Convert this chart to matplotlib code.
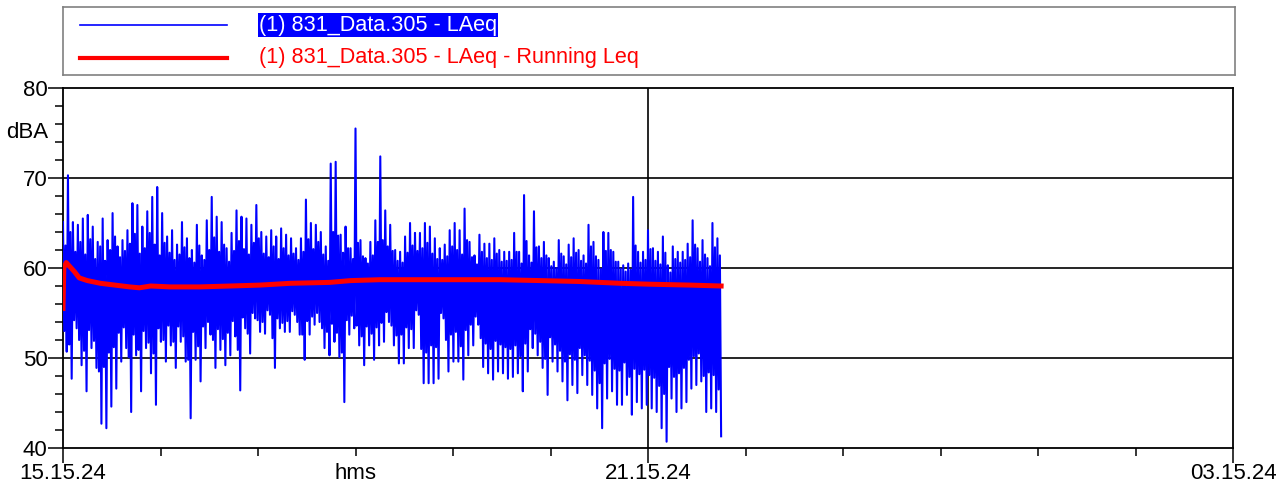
import numpy as np
import matplotlib
matplotlib.use('Agg')
import matplotlib.pyplot as plt

plt.rcParams['font.family'] = ['Liberation Sans', 'DejaVu Sans']

# x in minutes after 15.15.24
x_major = [0, 360, 720]
x_major_labels = ['15.15.24', '21.15.24', '03.15.24']
x_minor = [60, 120, 180, 240, 300, 420, 480, 540, 600, 660]
x_minor_labels = ['', '', 'hms', '', '', '', '', '', '', '']
y_major = [40, 50, 60, 70, 80]
y_minor = [42, 44, 46, 48, 52, 54, 56, 58, 62, 64, 66, 68, 72, 74, 76, 78]
end_min = 405  # last sample, minutes after start

# LAeq per ~3 min block: highest and lowest swing
laeq_hi = [65.1, 70.3, 65.1, 64.8, 65.5, 65.9, 64.6, 62.9, 65.5, 63.1, 66.1, 62.4,
           63.1, 64.2, 67.2, 67.0, 64.6, 66.3, 67.9, 69.0, 66.1, 63.5, 64.2, 62.6,
           65.1, 63.3, 62.0, 64.8, 61.4, 65.3, 67.9, 65.7, 65.1, 62.2, 63.9, 66.4,
           65.7, 65.5, 64.8, 67.0, 64.0, 63.5, 64.2, 63.5, 64.4, 63.7,
           63.3, 62.2, 63.3, 67.6, 65.0, 64.8, 64.0, 62.4, 71.6, 71.8, 63.7, 64.6,
           62.2, 75.5, 63.1, 61.1, 62.9, 65.3, 72.4, 66.4, 64.8, 62.0,
           61.8, 63.5, 65.0, 63.9, 63.9, 65.0, 64.6, 63.3, 62.2, 62.6, 64.2, 65.0,
           64.2, 66.6, 62.9, 61.4, 63.7, 62.7, 62.7, 63.3, 62.0, 61.8,
           61.8, 63.9, 61.8, 68.1, 61.4, 66.3, 62.4, 62.9, 61.1, 60.7, 63.1, 61.3,
           62.6, 63.3, 62.0, 61.4, 64.8, 62.9, 60.9, 64.0, 63.9, 61.8,
           60.7, 60.3, 60.5, 67.9, 61.8, 61.8, 64.2, 62.2, 61.8, 63.5, 60.3, 62.4,
           61.8, 61.8, 62.7, 65.3, 62.2, 63.1, 61.1, 65.0, 63.3]
laeq_lo = [50.7, 47.7, 53.3, 49.2, 46.3, 51.1, 48.9, 42.7, 42.2, 44.6, 46.6, 49.6,
           51.1, 44.0, 50.3, 46.3, 51.1, 48.3, 44.8, 51.8, 49.6, 51.4, 48.9, 51.8,
           49.6, 43.3, 49.8, 47.4, 51.1, 52.6, 48.9, 50.9, 49.2, 50.3, 52.4, 46.4,
           53.3, 50.5, 54.4, 52.9, 52.7, 54.8, 48.9, 53.3, 52.9, 52.9,
           54.8, 52.6, 49.8, 52.6, 53.7, 54.0, 51.1, 50.3, 51.8, 50.1, 45.1, 52.6,
           53.3, 51.4, 49.2, 51.4, 49.8, 51.4, 51.8, 54.0, 51.4, 49.4,
           49.4, 51.1, 51.1, 54.8, 47.2, 47.2, 47.2, 47.7, 54.4, 48.5, 49.6, 49.6,
           47.6, 50.3, 51.4, 53.7, 49.0, 48.3, 47.6, 48.5, 48.3, 47.7,
           47.9, 48.3, 46.3, 48.5, 51.1, 50.3, 48.9, 45.9, 49.6, 48.5, 47.4, 45.3,
           47.0, 46.1, 48.1, 47.0, 45.9, 44.4, 42.2, 45.5, 46.3, 44.8,
           44.8, 45.9, 43.7, 45.1, 44.4, 44.8, 44.4, 44.0, 42.2, 40.7, 45.5, 44.0,
           44.4, 45.1, 46.6, 47.0, 47.4, 44.0, 44.4, 44.0, 41.3]
# second highest / second lowest swing in the same blocks
laeq_hi2 = [62.5, 64.0, 61.8, 62.9, 61.5, 63.2, 61.0, 62.4, 60.8, 62.0, 63.5, 61.2,
            61.9, 62.7, 63.8, 61.6, 62.2, 63.9, 62.6, 61.4, 62.8, 61.7, 60.9, 61.5,
            62.3, 61.1, 60.6, 62.5, 60.9, 62.0, 63.4, 61.8, 62.6, 60.7, 61.9, 63.0,
            62.1, 61.5, 62.8, 63.3, 61.6, 61.2, 62.4, 61.0, 62.2, 61.4,
            61.6, 60.9, 61.8, 63.2, 62.1, 62.9, 61.5, 60.8, 64.0, 63.6, 61.7, 62.2,
            61.0, 62.8, 61.3, 60.5, 61.4, 62.9, 63.1, 62.4, 61.9, 60.8,
            60.6, 61.7, 62.5, 61.9, 62.2, 62.8, 61.6, 61.0, 60.9, 61.3, 62.4, 62.0,
            61.5, 63.1, 61.2, 60.4, 61.8, 61.1, 60.9, 61.6, 60.7, 60.8,
            60.9, 61.8, 60.5, 63.0, 60.6, 62.3, 61.1, 61.4, 60.2, 60.0, 61.6, 60.4,
            61.2, 61.7, 60.8, 60.5, 62.4, 61.3, 59.9, 61.9, 62.0, 60.7,
            59.9, 59.6, 59.8, 62.5, 60.6, 60.9, 62.1, 60.8, 60.4, 61.7, 59.5, 61.0,
            60.6, 60.9, 61.2, 62.6, 60.7, 61.5, 60.2, 62.3, 61.4]
laeq_lo2 = [53.0, 51.5, 54.2, 52.0, 50.8, 53.1, 51.9, 48.5, 49.0, 50.6, 51.2, 52.8,
            53.4, 50.1, 52.6, 50.9, 53.0, 51.7, 50.5, 53.3, 52.0, 53.6, 51.8, 53.5,
            52.4, 49.8, 52.9, 51.3, 53.5, 54.0, 52.0, 53.2, 52.1, 52.8, 54.1, 50.9,
            54.5, 52.7, 55.0, 54.2, 54.0, 55.3, 52.2, 54.4, 53.9, 54.1,
            55.2, 54.0, 52.6, 54.1, 54.6, 55.0, 53.3, 52.9, 53.8, 52.8, 50.6, 54.2,
            54.7, 53.6, 52.4, 53.5, 52.7, 53.4, 53.9, 55.1, 53.6, 52.5,
            52.6, 53.4, 53.2, 55.3, 51.0, 50.6, 51.4, 51.2, 55.0, 52.0, 52.6, 52.9,
            51.3, 53.1, 53.7, 54.6, 52.2, 51.6, 51.0, 51.9, 51.5, 51.2,
            51.0, 51.4, 50.2, 51.6, 53.2, 52.7, 51.8, 49.9, 52.3, 51.5, 50.8, 49.6,
            50.4, 49.8, 51.1, 50.3, 49.7, 48.6, 47.2, 49.4, 49.9, 48.8,
            48.6, 49.5, 47.9, 48.8, 48.2, 48.7, 48.1, 47.8, 46.9, 46.0, 49.0, 47.9,
            48.3, 48.9, 49.8, 50.2, 50.5, 48.0, 48.4, 48.1, 46.5]

# running Leq
run_t = [0, 0.5, 2, 4, 7, 10, 15, 23, 32, 41, 47, 54, 66, 84, 103, 121, 140,
         164, 177, 195, 220, 244, 269, 294, 318, 343, 361, 386, 405]
run_leq = [55.5, 60.0, 60.6, 60.2, 59.6, 58.9, 58.6, 58.3, 58.1, 57.9, 57.8, 58.0,
           57.9, 57.9, 58.0, 58.1, 58.3, 58.4, 58.6, 58.7, 58.7, 58.7, 58.7, 58.6,
           58.5, 58.3, 58.2, 58.1, 58.0]

blue = '#0000ff'
red = '#ff0000'
fs = 16

fig = plt.figure(figsize=(12.87, 4.92), dpi=100)
ax = fig.add_axes([63 / 1287, 44 / 492, 1170 / 1287, 360 / 492])

laeq = np.column_stack([laeq_hi, laeq_lo2, laeq_hi2, laeq_lo]).ravel()
t = np.linspace(0, end_min, len(laeq))
ax.plot(t, laeq, color=blue, lw=1.5, zorder=3)
ax.plot(run_t, run_leq, color=red, lw=3.6, zorder=4)

for yv in [50, 60, 70]:
    ax.axhline(yv, color='black', lw=1.2, zorder=2)
ax.axvline(360, color='black', lw=1.2, zorder=2)

ax.set_xlim(0, 720)
ax.set_ylim(40, 80)
ax.set_xticks(x_major, labels=x_major_labels)
ax.set_xticks(x_minor, labels=x_minor_labels, minor=True)
ax.set_yticks(y_major)
ax.set_yticks(y_minor, minor=True)
ax.tick_params(which='major', length=11, width=1.1, pad=0, labelsize=fs, direction='out')
ax.tick_params(which='minor', length=6, width=1.1, labelsize=fs, direction='out')
ax.tick_params(axis='x', which='minor', pad=5)
for s in ax.spines.values():
    s.set_linewidth(1.3)

ax.text(-15 / 1170, 75, 'dBA', transform=ax.get_yaxis_transform(),
        ha='right', va='center', fontsize=fs)

# legend box
lax = fig.add_axes([63 / 1287, 1 - 75 / 492, 1172 / 1287, 68 / 492])
lax.set_xlim(0, 1172)
lax.set_ylim(68, 0)
lax.set_xticks([])
lax.set_yticks([])
for s in lax.spines.values():
    s.set_color('#808080')
    s.set_linewidth(1.2)
lax.plot([17, 164], [18, 18], color=blue, lw=1.2)
lax.plot([17, 164], [51, 51], color=red, lw=3)
lax.text(196, 18, '(1) 831_Data.305 - LAeq', color='white', fontsize=15.6, va='center',
         bbox=dict(facecolor=blue, edgecolor='none', pad=1))
lax.text(196, 51, '(1) 831_Data.305 - LAeq - Running Leq', color=red, fontsize=15.6,
         va='center')

fig.savefig('out.png', dpi=100)
